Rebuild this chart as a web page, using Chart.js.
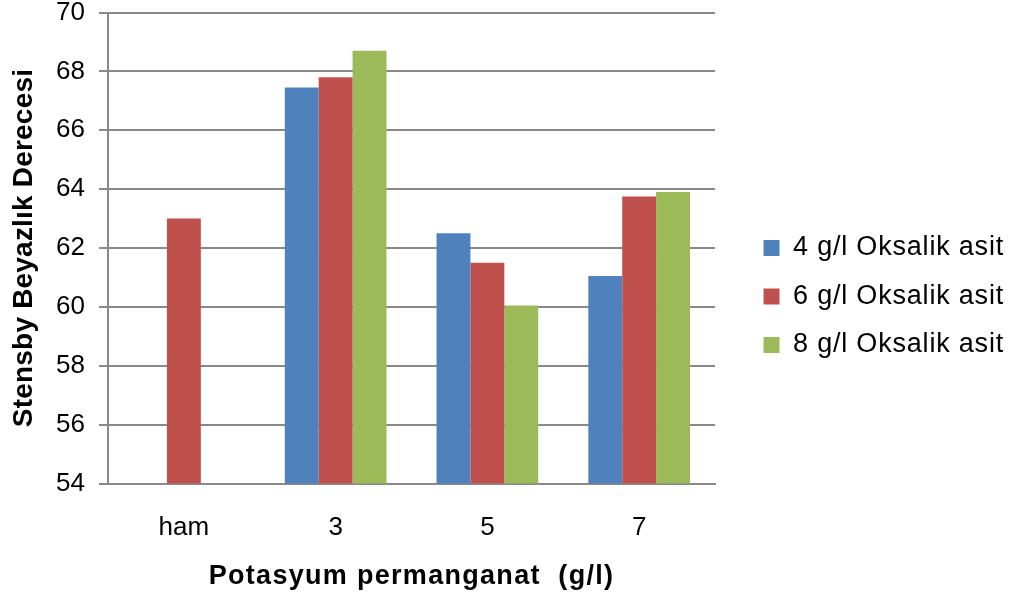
<!DOCTYPE html>
<html>
<head>
<meta charset="utf-8">
<script src="https://cdn.jsdelivr.net/npm/chart.js@4/dist/chart.umd.min.js"></script>
<style>
  html, body { margin: 0; padding: 0; background: #ffffff; }
  #wrap { width: 1014px; height: 601px; }
</style>
</head>
<body>
<div id="wrap"><canvas id="c" width="1014" height="601"></canvas></div>
<script>
// Categories (potassium permanganate, g/l) and one value list per oxalic acid level
const categories = ['ham', '3', '5', '7'];
const seriesNames = ['4 g/l Oksalik asit', '6 g/l Oksalik asit', '8 g/l Oksalik asit'];
const acid4 = [null, 67.45, 62.5, 61.05];
const acid6 = [63.0, 67.8, 61.5, 63.75];
const acid8 = [null, 68.7, 60.05, 63.9];
const yTickValues = [54, 56, 58, 60, 62, 64, 66, 68, 70];
const xTitle = 'Potasyum permanganat  (g/l)';
const yTitle = 'Stensby Beyazlık Derecesi';

const seriesColors = ['#4F81BD', '#C0504D', '#9BBB59'];
const GRID = '#898989';
const FAMILY = "'Liberation Sans', Arial, sans-serif";

const ctx = document.getElementById('c').getContext('2d');

// Wider letter spacing for the legend and the axis titles (keyed by weight + size)
const TRACKING = { 'normal 27': 0.8, 'bold 27': 1.3, 'bold 28': 0.2 };
function applyTracking(c) {
  const f = c.font;
  const m = f.match(/(\d+(?:\.\d+)?)px/);
  const size = m ? m[1] : '';
  const weight = /bold|\b[6-9]00\b/.test(f) ? 'bold' : 'normal';
  c.letterSpacing = (TRACKING[weight + ' ' + size] || 0) + 'px';
}
for (const fn of ['measureText', 'fillText']) {
  const orig = ctx[fn];
  ctx[fn] = function (...args) { applyTracking(this); return orig.apply(this, args); };
}

const seriesData = [acid4, acid6, acid8];

new Chart(ctx, {
  type: 'bar',
  data: {
    labels: categories,
    datasets: seriesNames.map((name, i) => ({
      label: name,
      data: seriesData[i],
      backgroundColor: seriesColors[i],
      borderWidth: 0
    }))
  },
  options: {
    responsive: false,
    animation: false,
    devicePixelRatio: 1,
    layout: { padding: { left: 0, right: 0, top: 0, bottom: 8 } },
    datasets: { bar: { categoryPercentage: 0.67, barPercentage: 1 } },
    plugins: {
      tooltip: { enabled: false },
      legend: {
        position: 'right',
        maxWidth: 320,
        labels: {
          boxWidth: 16,
          boxHeight: 16,
          padding: 21.5,
          color: '#000000',
          font: { family: FAMILY, size: 27 }
        }
      }
    },
    scales: {
      x: {
        grid: { display: false, drawTicks: false },
        border: { display: true, color: GRID, width: 2 },
        ticks: {
          color: '#000000',
          font: { family: FAMILY, size: 26 },
          padding: 29,
          maxRotation: 0,
          autoSkip: false
        },
        title: {
          display: true,
          text: xTitle,
          color: '#000000',
          font: { family: FAMILY, size: 27, weight: 'bold' },
          padding: { top: 0, bottom: 0 }
        },
        afterFit(s) { s.height = 109.5; s.paddingLeft = 0; s.paddingRight = 0; }
      },
      y: {
        min: yTickValues[0],
        max: yTickValues[yTickValues.length - 1],
        ticks: {
          stepSize: yTickValues[1] - yTickValues[0],
          color: '#000000',
          font: { family: FAMILY, size: 26, lineHeight: 1 },
          padding: 14
        },
        grid: { color: GRID, lineWidth: 2, tickLength: 9, drawTicks: true },
        border: { display: true, color: GRID, width: 2 },
        title: {
          display: true,
          text: yTitle,
          color: '#000000',
          font: { family: FAMILY, size: 28, weight: 'bold' },
          padding: { top: 7, bottom: 0 }
        },
        afterFit(s) { s.width = 108; s.paddingTop = 12.5; s.paddingBottom = 0; }
      },
      // empty spacer between the plot and the legend
      yGap: {
        type: 'linear',
        axis: 'y',
        position: 'right',
        grid: { display: false, drawTicks: false },
        border: { display: false },
        ticks: { display: false },
        afterFit(s) { s.width = 27; s.paddingTop = 0; s.paddingBottom = 0; }
      }
    }
  }
});
</script>
</body>
</html>
